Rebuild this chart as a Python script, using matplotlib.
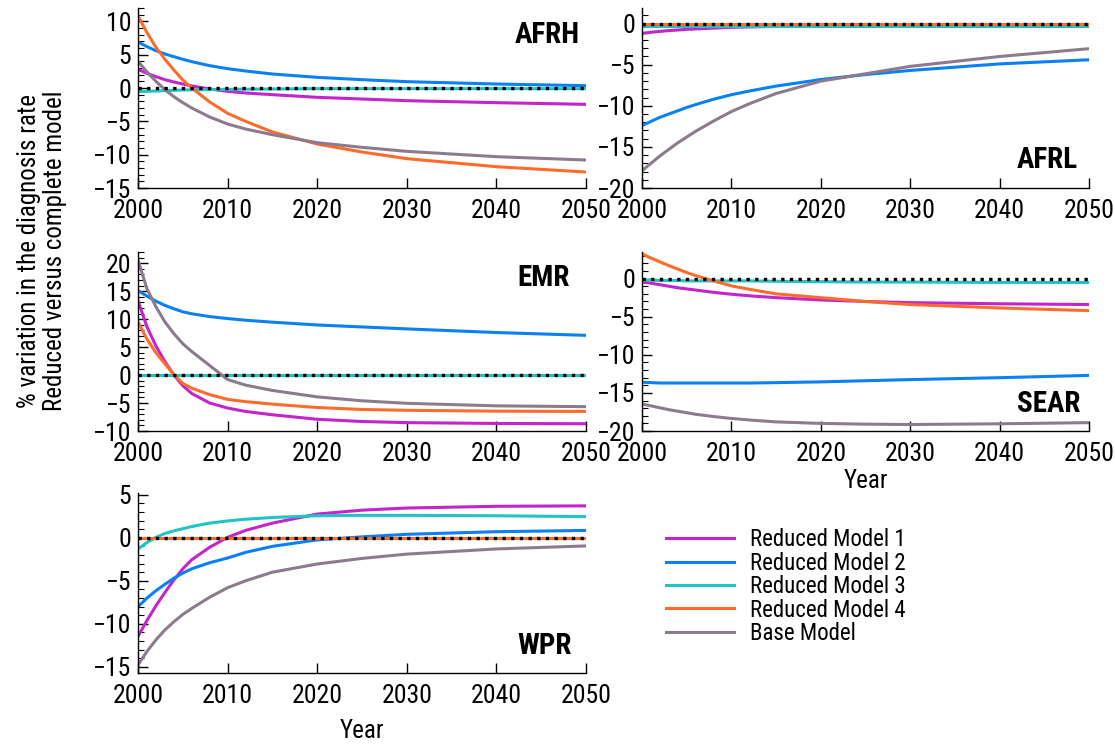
import matplotlib
matplotlib.use("Agg")
import matplotlib.pyplot as plt
from matplotlib import font_manager
from matplotlib.ticker import MultipleLocator

# simulation years (shared by every region)
YEARS = [2000, 2001, 2002, 2003, 2004, 2005, 2006, 2008, 2010, 2012, 2015, 2020, 2025, 2030, 2040, 2050]

# AFRH
AFRH_RM1 = [2.8, 2.2, 1.7, 1.25, 0.9, 0.6, 0.3, -0.15, -0.5, -0.75, -1.0, -1.4, -1.65, -1.9, -2.2, -2.45]
AFRH_RM2 = [6.9, 6.2, 5.6, 5.1, 4.7, 4.3, 3.95, 3.35, 2.9, 2.55, 2.1, 1.6, 1.25, 0.95, 0.6, 0.35]
AFRH_RM3 = [-0.55, -0.5, -0.45, -0.4, -0.35, -0.3, -0.28, -0.23, -0.2, -0.18, -0.15, -0.1, -0.1, -0.1, -0.1, -0.1]
AFRH_RM4 = [10.8, 8.3, 6.1, 4.3, 2.7, 1.2, 0.0, -2.1, -3.8, -5.0, -6.6, -8.4, -9.6, -10.6, -11.8, -12.6]
AFRH_BASE = [4.0, 2.4, 1.0, -0.25, -1.3, -2.2, -3.0, -4.35, -5.4, -6.15, -7.0, -8.2, -8.9, -9.5, -10.3, -10.8]

# AFRL
AFRL_RM1 = [-1.2, -1.05, -0.95, -0.85, -0.78, -0.7, -0.65, -0.55, -0.45, -0.4, -0.35, -0.3, -0.3, -0.3, -0.3, -0.3]
AFRL_RM2 = [-12.4, -11.9, -11.4, -11.0, -10.6, -10.2, -9.85, -9.2, -8.65, -8.2, -7.6, -6.8, -6.2, -5.7, -4.9, -4.4]
AFRL_RM3 = [-0.3, -0.3, -0.3, -0.3, -0.3, -0.3, -0.3, -0.3, -0.3, -0.3, -0.3, -0.3, -0.3, -0.3, -0.3, -0.3]
AFRL_RM4 = [0.0, 0.0, 0.0, 0.0, 0.0, 0.0, 0.0, 0.0, 0.0, 0.0, 0.0, 0.0, 0.0, 0.0, 0.0, 0.0]
AFRL_BASE = [-17.9, -17.0, -16.1, -15.3, -14.5, -13.8, -13.1, -11.85, -10.7, -9.75, -8.5, -7.0, -6.1, -5.2, -4.0, -3.05]

# EMR
EMR_RM1 = [13.3, 8.6, 5.2, 2.4, 0.0, -1.9, -3.3, -5.0, -5.9, -6.5, -7.1, -7.9, -8.3, -8.5, -8.65, -8.7]
EMR_RM2 = [15.1, 14.1, 13.2, 12.45, 11.85, 11.3, 10.95, 10.45, 10.1, 9.8, 9.45, 8.95, 8.6, 8.25, 7.6, 7.1]
EMR_RM3 = [-0.05, -0.05, -0.05, -0.05, -0.05, -0.05, -0.05, -0.05, -0.05, -0.05, -0.05, -0.05, -0.05, -0.05, -0.05, -0.05]
EMR_RM4 = [9.5, 6.4, 4.0, 2.0, 0.1, -1.5, -2.35, -3.5, -4.35, -4.75, -5.2, -5.8, -6.15, -6.3, -6.45, -6.5]
EMR_BASE = [20.5, 15.4, 12.2, 9.5, 7.4, 5.6, 4.2, 1.7, -0.8, -1.8, -2.75, -3.9, -4.6, -5.05, -5.5, -5.65]

# SEAR
SEAR_RM1 = [-0.45, -0.6, -0.8, -1.0, -1.2, -1.35, -1.5, -1.8, -2.05, -2.25, -2.5, -2.8, -3.0, -3.15, -3.3, -3.4]
SEAR_RM2 = [-13.6, -13.65, -13.7, -13.7, -13.7, -13.7, -13.7, -13.7, -13.7, -13.7, -13.65, -13.55, -13.4, -13.25, -13.0, -12.7]
SEAR_RM3 = [-0.2, -0.2, -0.25, -0.25, -0.25, -0.3, -0.3, -0.3, -0.3, -0.3, -0.35, -0.4, -0.45, -0.45, -0.5, -0.5]
SEAR_RM4 = [3.25, 2.7, 2.2, 1.7, 1.25, 0.8, 0.4, -0.3, -0.95, -1.4, -2.0, -2.5, -3.0, -3.4, -3.85, -4.2]
SEAR_BASE = [-16.45, -16.7, -16.95, -17.2, -17.4, -17.6, -17.8, -18.1, -18.35, -18.55, -18.8, -19.0, -19.1, -19.15, -19.05, -18.9]

# WPR
WPR_RM1 = [-11.45, -9.6, -7.9, -6.35, -4.9, -3.6, -2.55, -1.1, 0.05, 0.85, 1.7, 2.75, 3.2, 3.45, 3.65, 3.7]
WPR_RM2 = [-8.0, -7.0, -6.15, -5.4, -4.7, -4.1, -3.6, -2.9, -2.35, -1.7, -1.0, -0.25, 0.1, 0.4, 0.7, 0.85]
WPR_RM3 = [-1.3, -0.55, 0.05, 0.5, 0.8, 1.05, 1.3, 1.7, 1.95, 2.15, 2.35, 2.55, 2.6, 2.6, 2.55, 2.45]
WPR_RM4 = [0.0, 0.0, 0.0, 0.0, 0.0, 0.0, 0.0, 0.0, 0.0, 0.0, 0.0, 0.0, 0.0, 0.0, 0.0, 0.0]
WPR_BASE = [-14.75, -13.2, -11.85, -10.7, -9.75, -8.9, -8.2, -6.9, -5.8, -5.0, -4.0, -3.05, -2.4, -1.9, -1.3, -0.95]

SERIES_NAMES = ['Reduced Model 1', 'Reduced Model 2', 'Reduced Model 3',
                'Reduced Model 4', 'Base Model']
COLORS = ['#C424CC', '#0A80F5', '#1EC4C6', '#FF6B2B', '#8C7B8C']


def pick_narrow_font():
    """Return (family, stretch, scale) for the narrowest sans available."""
    fonts = font_manager.fontManager.ttflist
    names = {f.name for f in fonts}
    for fam in ['Liberation Sans Narrow', 'Roboto Condensed', 'Open Sans Condensed',
                'Noto Sans Condensed', 'DejaVu Sans Condensed']:
        if fam in names:
            return fam, 'normal', 1.0
    for fam in ['Noto Sans', 'Open Sans', 'Roboto', 'DejaVu Sans']:
        for f in fonts:
            if f.name == fam and str(f.stretch) in ('condensed', 'semi-condensed',
                                                    'extra-condensed'):
                return fam, 'condensed', 1.0
    return 'Liberation Sans', 'normal', 0.88


FAMILY, STRETCH, SCALE = pick_narrow_font()
plt.rcParams['font.family'] = [FAMILY, 'DejaVu Sans']
plt.rcParams['font.stretch'] = STRETCH

TICK_FS = 18.5 * SCALE
LABEL_FS = 18 * SCALE
TITLE_FS = 21 * SCALE
LEGEND_FS = 16.5 * SCALE

# name, series, ylim, label anchor (axes fraction), axes rect
panels = [
    ('AFRH', [AFRH_RM1, AFRH_RM2, AFRH_RM3, AFRH_RM4, AFRH_BASE], (-15, 12), (0.987, 0.93, 'top'),
     [0.1238, 0.7483, 0.4018, 0.2410]),
    ('AFRL', [AFRL_RM1, AFRL_RM2, AFRL_RM3, AFRL_RM4, AFRL_BASE], (-20, 1.9), (0.975, 0.08, 'bottom'),
     [0.5758, 0.7483, 0.4009, 0.2410]),
    ('EMR', [EMR_RM1, EMR_RM2, EMR_RM3, EMR_RM4, EMR_BASE], (-10, 22), (0.964, 0.93, 'top'),
     [0.1238, 0.4230, 0.4018, 0.2397]),
    ('SEAR', [SEAR_RM1, SEAR_RM2, SEAR_RM3, SEAR_RM4, SEAR_BASE], (-20, 3.5), (0.98, 0.075, 'bottom'),
     [0.5758, 0.4230, 0.4009, 0.2397]),
    ('WPR', [WPR_RM1, WPR_RM2, WPR_RM3, WPR_RM4, WPR_BASE], (-15.7, 5.2), (0.969, 0.07, 'bottom'),
     [0.1238, 0.0991, 0.4018, 0.2410]),
]
XLABEL_PAD = {'SEAR': 2, 'WPR': 8}

fig = plt.figure(figsize=(11.15, 7.47), dpi=100)

handles = []
for name, series, ylim, (tx, ty, tva), rect in panels:
    ax = fig.add_axes(rect)
    lines = []
    for vals, col, lab in zip(series, COLORS, SERIES_NAMES):
        ln, = ax.plot(YEARS, vals, color=col, lw=2.2, label=lab)
        lines.append(ln)
    # reference line at zero
    ax.axhline(0, color='black', lw=2.4, linestyle=(0, (1, 1.6)), zorder=5)
    if not handles:
        handles = lines

    ax.set_xlim(2000, 2050)
    ax.set_ylim(*ylim)
    ax.xaxis.set_major_locator(MultipleLocator(10))
    ax.yaxis.set_major_locator(MultipleLocator(5))
    ax.yaxis.set_minor_locator(MultipleLocator(1))
    for s in ['top', 'right']:
        ax.spines[s].set_visible(False)
    for s in ['left', 'bottom']:
        ax.spines[s].set_linewidth(1.0)
    ax.tick_params(axis='both', which='major', direction='in', length=7, width=1,
                   labelsize=TICK_FS, pad=5)
    ax.tick_params(axis='x', which='major', pad=8)
    ax.tick_params(axis='y', which='minor', direction='in', length=4, width=0.8)
    ax.patch.set_visible(False)

    ax.text(tx, ty, name, transform=ax.transAxes, ha='right', va=tva,
            fontsize=TITLE_FS, fontweight='bold')

    if name in XLABEL_PAD:
        ax.set_xlabel('Year', fontsize=LABEL_FS, labelpad=XLABEL_PAD[name])

fig.text(0.038, 0.664, '% variation in the diagnosis rate\nReduced versus complete model',
         rotation=90, ha='center', va='center', fontsize=LABEL_FS, linespacing=1.1)

fig.legend(handles=handles, labels=SERIES_NAMES, loc='upper left',
           bbox_to_anchor=(0.597, 0.293), frameon=False, fontsize=LEGEND_FS,
           handlelength=3.0, handletextpad=0.7, labelspacing=0.02,
           borderpad=0, borderaxespad=0)

fig.savefig('out.png', dpi=100)
